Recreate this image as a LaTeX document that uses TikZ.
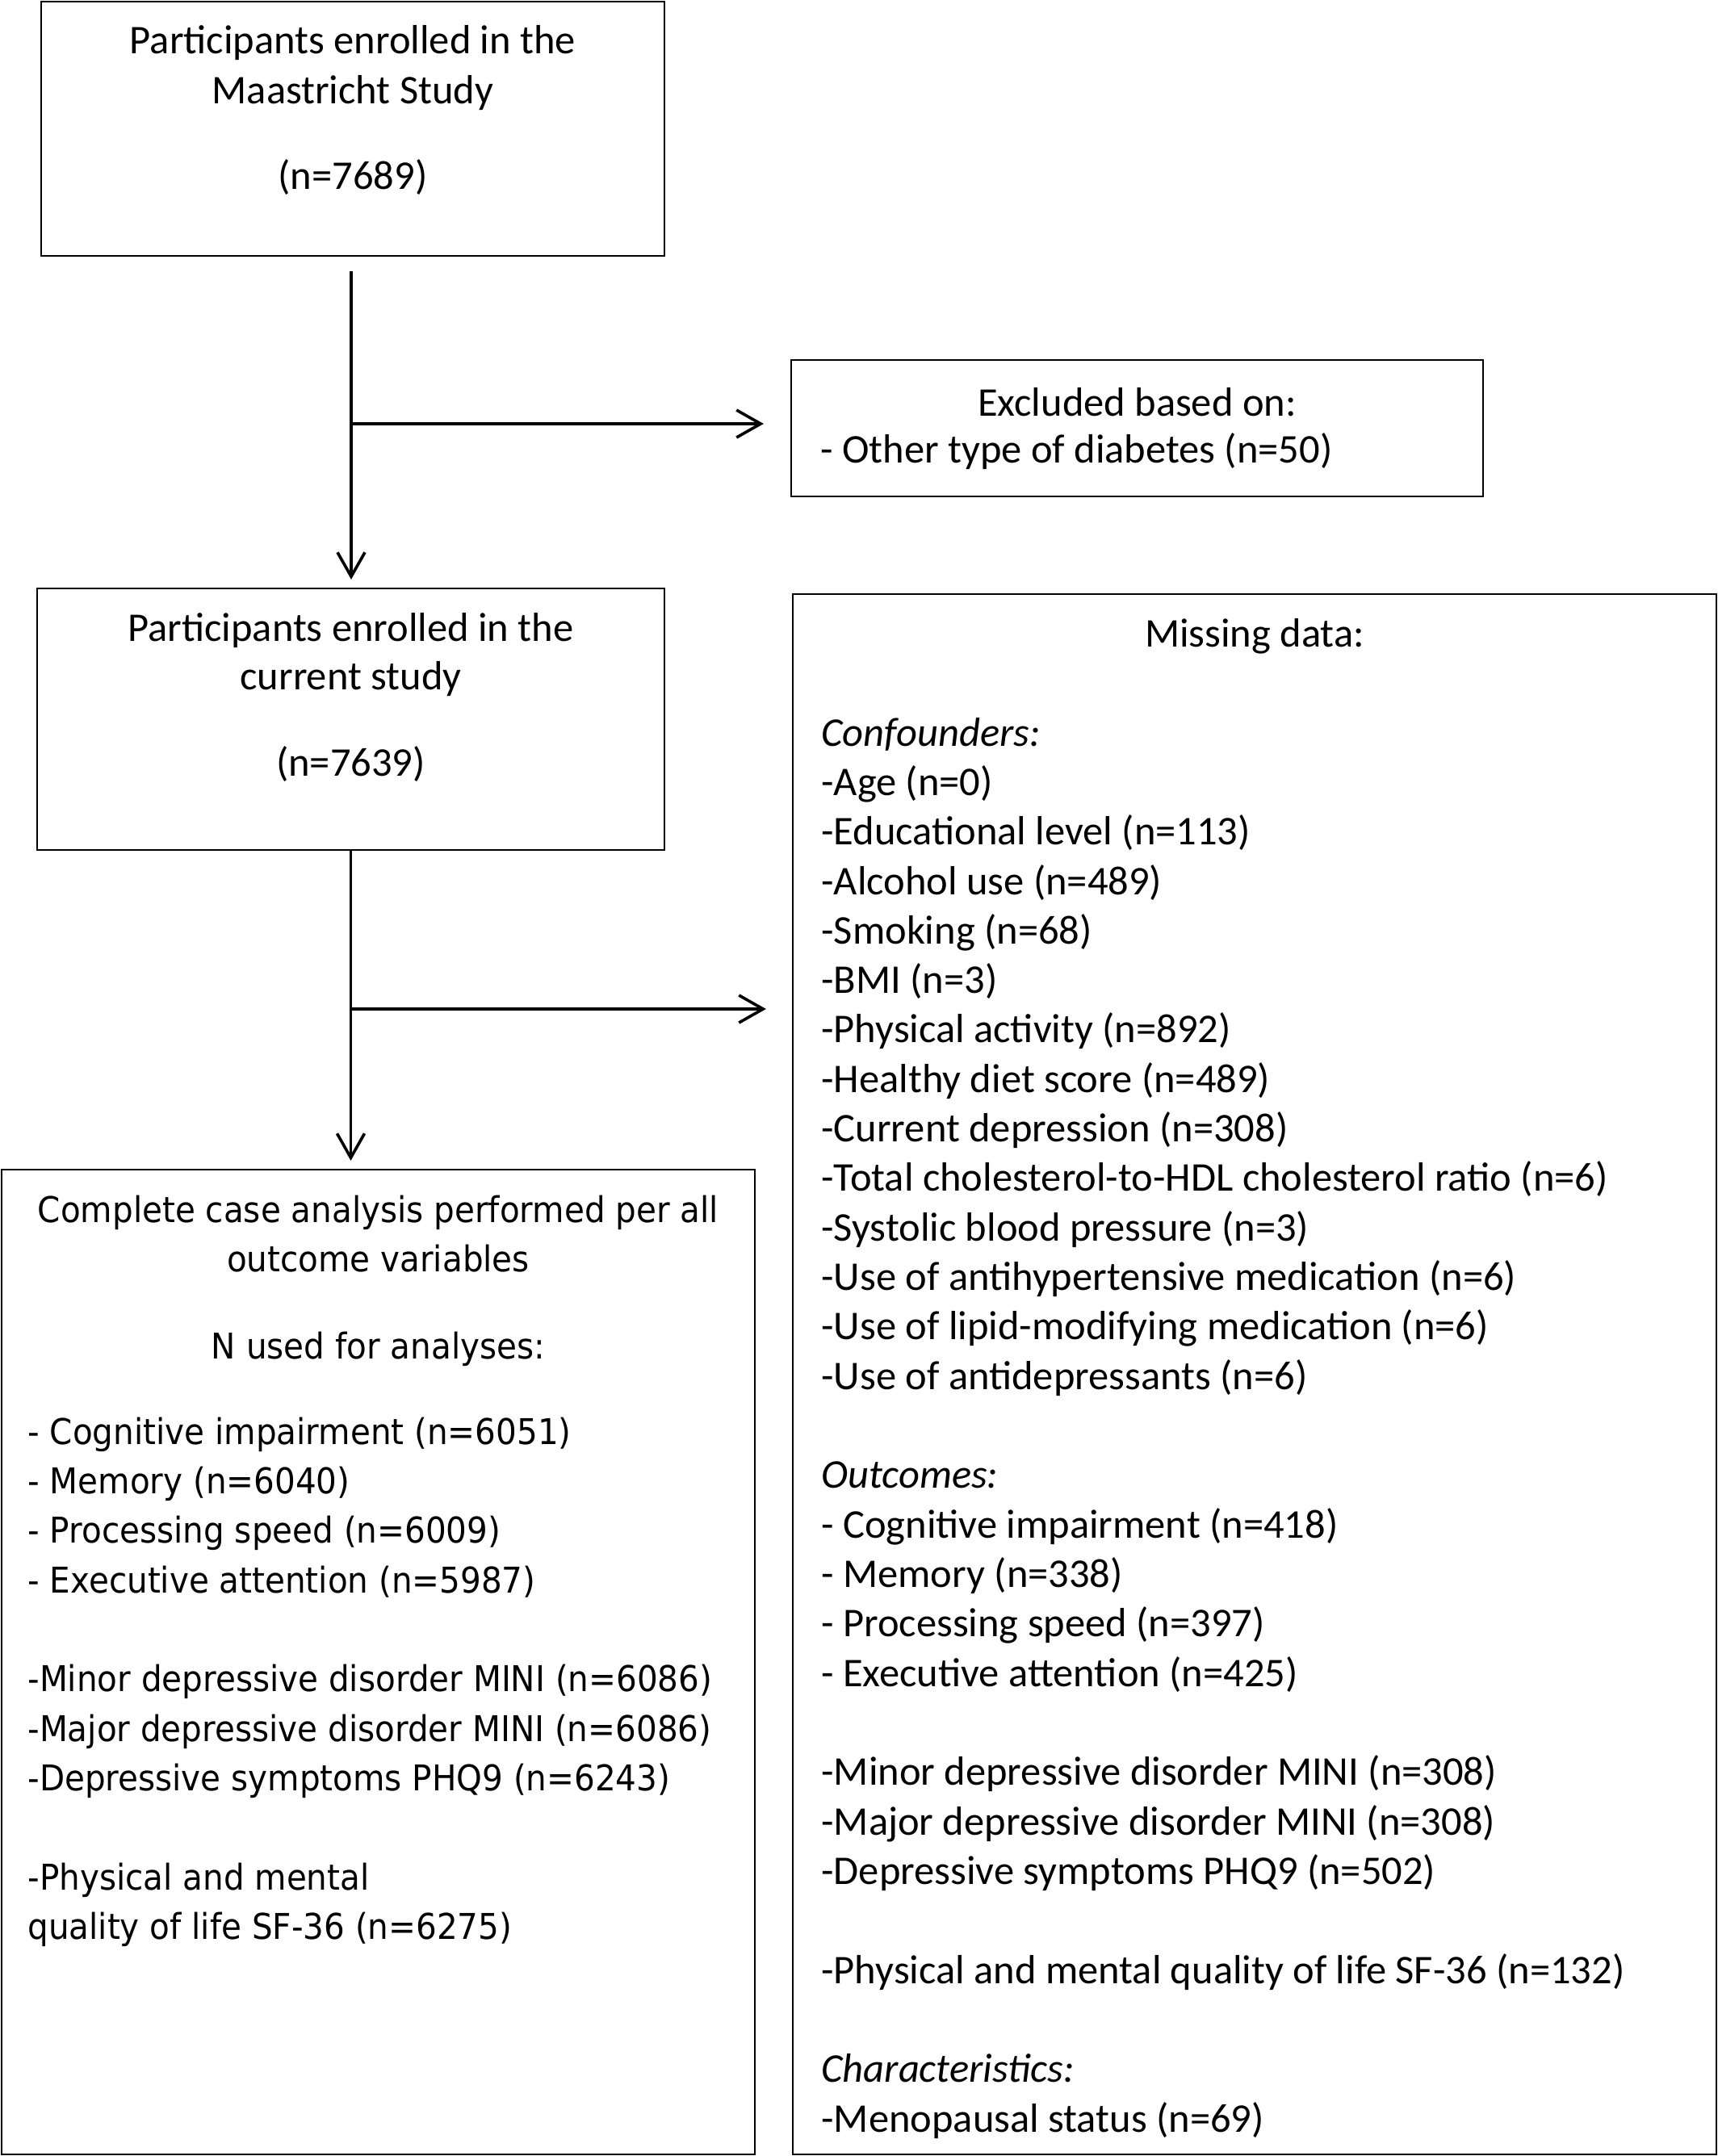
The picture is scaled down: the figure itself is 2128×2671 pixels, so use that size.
\documentclass[tikz,border=0pt]{standalone}
\usepackage{fontspec}
\setmainfont{Carlito}
\newfontfamily\verd[FakeStretch=0.92]{DejaVu Sans}
\usetikzlibrary{arrows.meta}
\begin{document}
\begin{tikzpicture}[x=0.5pt,y=-0.5pt,
  box/.style={draw, line width=1.1pt, rectangle, inner sep=0pt},
  arr/.style={line width=1.8pt, -{Straight Barb[length=15pt,width=17pt]}},
  cal/.style={inner sep=0pt, font=\fontsize{25.25pt}{30.67pt}\selectfont},
  ver/.style={inner sep=0pt, font=\verd\fontsize{22pt}{30.67pt}\selectfont},
]
\fill[white] (0,0) rectangle (2128,2671);
\useasboundingbox (0,0) rectangle (2128,2671);

% boxes
\node[box, minimum width=386pt, minimum height=157.5pt] (b1) at (437,159.5) {};
\node[box, minimum width=428.5pt, minimum height=84.5pt] (excl) at (1408.5,530.5) {};
\node[box, minimum width=388.5pt, minimum height=162pt] (b2) at (434.5,891) {};
\node[box, minimum width=572pt, minimum height=966.5pt] (miss) at (1554,1702.5) {};
\node[box, minimum width=466.5pt, minimum height=610pt] (b3) at (468.5,2059) {};

% box 1 text
\node[cal, anchor=base] (b1t1) at (437,67) {Participants enrolled in the};
\node[cal, anchor=base] (b1t2) at (437,128) {Maastricht Study};
\node[cal, anchor=base] (b1t3) at (437,234) {(n=7689)};

% excluded text
\node[cal, anchor=base] (ex1) at (1408.5,515) {Excluded based on:};
\node[cal, anchor=base west] (ex2) at (1016,573) {- Other type of diabetes (n=50)};

% box 2 text
\node[cal, anchor=base] (b2t1) at (434.5,794) {Participants enrolled in the};
\node[cal, anchor=base] (b2t2) at (434.5,854) {current study};
\node[cal, anchor=base] (b2t3) at (434.5,961) {(n=7639)};

% missing data text
\node[cal, anchor=base] (mh) at (1554,801) {Missing data:};
\foreach \k/\t in {
  0/{\textit{Confounders:}},
  1/{-Age (n=0)},
  2/{-Educational level (n=113)},
  3/{-Alcohol use (n=489)},
  4/{-Smoking (n=68)},
  5/{-BMI (n=3)},
  6/{-Physical activity (n=892)},
  7/{-Healthy diet score (n=489)},
  8/{-Current depression (n=308)},
  9/{-Total cholesterol-to-HDL cholesterol ratio (n=6)},
  10/{-Systolic blood pressure (n=3)},
  11/{-Use of antihypertensive medication (n=6)},
  12/{-Use of lipid-modifying medication (n=6)},
  13/{-Use of antidepressants (n=6)},
  15/{\textit{Outcomes:}},
  16/{- Cognitive impairment (n=418)},
  17/{- Memory (n=338)},
  18/{- Processing speed (n=397)},
  19/{- Executive attention (n=425)},
  21/{-Minor depressive disorder MINI (n=308)},
  22/{-Major depressive disorder MINI (n=308)},
  23/{-Depressive symptoms PHQ9 (n=502)},
  25/{-Physical and mental quality of life SF-36 (n=132)},
  27/{\textit{Characteristics:}},
  28/{-Menopausal status (n=69)}}
  \node[cal, anchor=base west] (m\k) at (1017,{924+61.33*\k}) {\t};

% box 3 text
\node[ver, anchor=base] (c1) at (468.5,1514) {Complete case analysis performed per all};
\node[ver, anchor=base] (c2) at (468.5,1575) {outcome variables};
\node[ver, anchor=base] (c3) at (468.5,1683) {N used for analyses:};
\foreach \k/\yy/\t in {
  1/1789/{- Cognitive impairment (n=6051)},
  2/1850.3/{- Memory (n=6040)},
  3/1911.7/{- Processing speed (n=6009)},
  4/1973/{- Executive attention (n=5987)},
  5/2095.7/{-Minor depressive disorder MINI (n=6086)},
  6/2157/{-Major depressive disorder MINI (n=6086)},
  7/2218.3/{-Depressive symptoms PHQ9 (n=6243)},
  8/2341/{-Physical and mental},
  9/2402.3/{quality of life SF-36 (n=6275)}}
  \node[ver, anchor=base west] (n\k) at (34,\yy) {\t};

% connectors
\coordinate (s1) at (435,336);
\coordinate (j1) at (435,525);
\coordinate (j2) at (434.5,1250);
\draw[arr, shorten >=5pt] (s1) -- (s1 |- b2.north);
\draw[arr, shorten >=16.5pt] (j1) -- (j1 -| excl.west);
\draw[arr, shorten >=5pt] (b2.south) -- (b2.south |- b3.north);
\draw[arr, shorten >=16pt] (j2) -- (j2 -| miss.west);
\end{tikzpicture}
\end{document}
